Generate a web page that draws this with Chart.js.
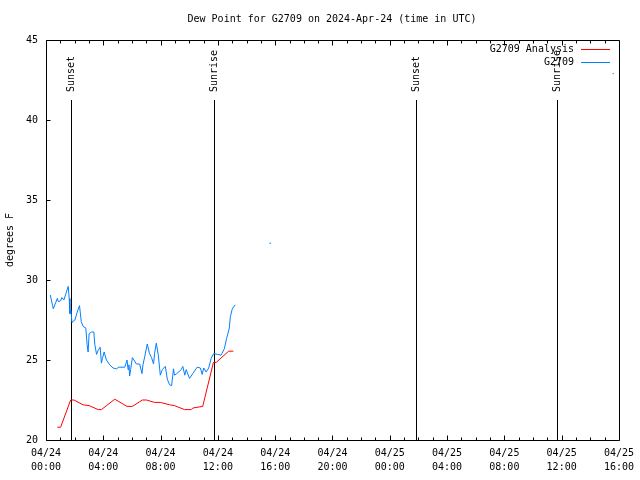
<!DOCTYPE html>
<html>
<head>
<meta charset="utf-8">
<script src="https://cdn.jsdelivr.net/npm/chart.js@4/dist/chart.umd.min.js"></script>
<style>
  html, body { margin: 0; padding: 0; background: #fff; }
  #wrap { width: 640px; height: 480px; }
</style>
</head>
<body>
<div id="wrap"><canvas id="chart" width="640" height="480"></canvas></div>
<script>
// --- data (hours since 2024-04-24 00:00 UTC) ---
const obsHours = [0.30, 0.51, 0.79, 0.86, 1.02, 1.11, 1.25, 1.39, 1.55, 1.62, 1.67, 1.74, 1.81, 2.02, 2.18, 2.34, 2.46, 2.59, 2.78, 2.87,
  2.94, 3.01, 3.18, 3.34, 3.41, 3.53, 3.64, 3.78, 3.87, 3.94, 4.06, 4.22, 4.45, 4.68, 4.92, 5.08, 5.50, 5.66, 5.73, 5.79,
  5.84, 5.91, 6.03, 6.31, 6.54, 6.70, 6.77, 6.89, 7.07, 7.23, 7.37, 7.51, 7.58, 7.70, 7.84, 7.98, 8.12, 8.33, 8.47, 8.63,
  8.77, 8.90, 8.97, 9.13, 9.44, 9.55, 9.69, 9.79, 10.02, 10.25, 10.55, 10.78, 10.90, 11.01, 11.18, 11.36, 11.53, 11.71, 11.99, 12.22,
  12.45, 12.61, 12.80, 12.87, 12.99, 13.08, 13.22];
const obsValues = [29.06, 28.2, 28.85, 28.65, 28.7, 28.9, 28.75, 29.15, 29.6, 28.85, 27.9, 28.1, 27.35, 27.5, 28.0, 28.4, 27.4, 27.1, 27.0, 25.95,
  25.5, 26.65, 26.75, 26.75, 25.95, 25.35, 25.6, 25.8, 24.8, 25.1, 25.5, 25.0, 24.7, 24.5, 24.45, 24.55, 24.55, 25.0, 24.4, 24.7,
  24.0, 24.4, 25.15, 24.75, 24.75, 24.15, 24.7, 25.2, 26.0, 25.4, 25.15, 24.75, 25.4, 26.05, 25.3, 24.05, 24.4, 24.6, 23.8, 23.45,
  23.4, 24.45, 24.05, 24.15, 24.4, 24.6, 24.05, 24.4, 23.85, 24.15, 24.55, 24.5, 24.1, 24.5, 24.25, 24.5, 25.1, 25.4, 25.35, 25.3,
  25.7, 26.35, 27.0, 27.7, 28.15, 28.3, 28.45];

const analysisHours = [0.79, 1.02, 1.72, 1.95, 2.59, 3.01, 3.64, 3.87, 4.80, 5.66, 6.03, 6.73, 7.01, 7.58, 7.98, 8.63, 8.97, 9.67, 10.14, 10.25,
  10.94, 11.69, 11.88, 12.75, 13.08];
const analysisValues = [20.8, 20.8, 22.5, 22.5, 22.2, 22.15, 21.9, 21.9, 22.55, 22.1, 22.1, 22.5, 22.5, 22.35, 22.35, 22.2, 22.15, 21.9, 21.9, 22.0,
  22.1, 24.85, 24.85, 25.55, 25.55];

// stray single dots in the picture
const strayHours = [15.65, 39.6];
const strayValues = [32.3, 42.9];

const eventHours = [1.76, 11.71, 25.81, 35.69];
const eventLabels = ['Sunset', 'Sunrise', 'Sunset', 'Sunrise'];

const tickDates = ['04/24', '04/24', '04/24', '04/24', '04/24', '04/24', '04/25', '04/25', '04/25', '04/25', '04/25'];
const tickTimes = ['00:00', '04:00', '08:00', '12:00', '16:00', '20:00', '00:00', '04:00', '08:00', '12:00', '16:00'];

const chartTitle = 'Dew Point for G2709 on 2024-Apr-24 (time in UTC)';

const FONT = "'DejaVu Sans Mono', 'Liberation Mono', monospace";
const RED = '#ff0000';
const BLUE = '#0080ff';

const toPoints = (xs, ys) => xs.map((x, i) => ({ x: x, y: ys[i] }));

// --- frame, ticks, sunrise/sunset markers, title, legend ---
const gnuplotDecor = {
    id: 'gnuplotDecor',
    beforeDatasetsDraw(chart) {
        const { ctx, chartArea, scales } = chart;
        const xs = scales.x, ys = scales.y;
        const L = Math.round(chartArea.left) + 0.5;
        const R = Math.round(chartArea.right) + 0.5;
        const T = Math.round(chartArea.top) + 0.5;
        const B = Math.round(chartArea.bottom) + 0.5;

        ctx.save();
        ctx.strokeStyle = '#000';
        ctx.lineWidth = 1;
        ctx.beginPath();
        ctx.rect(L, T, R - L, B - T);

        // x ticks every hour, major every 4, on bottom and top
        for (let h = 0; h <= 40; h++) {
            const px = Math.round(xs.getPixelForValue(h)) + 0.5;
            const len = h % 4 === 0 ? 5 : 3;
            ctx.moveTo(px, B); ctx.lineTo(px, B - len);
            ctx.moveTo(px, T); ctx.lineTo(px, T + len);
        }
        // y ticks on the left only
        for (let v = 20; v <= 45; v += 5) {
            const py = Math.round(ys.getPixelForValue(v)) + 0.5;
            ctx.moveTo(L, py); ctx.lineTo(L + 4, py);
        }
        ctx.stroke();

        // event lines
        ctx.font = '10px ' + FONT;
        ctx.fillStyle = '#000';
        eventHours.forEach((h, i) => {
            const px = Math.round(xs.getPixelForValue(h)) + 0.5;
            ctx.beginPath();
            ctx.moveTo(px, 100);
            ctx.lineTo(px, B);
            ctx.stroke();
            ctx.save();
            ctx.translate(px, 92);
            ctx.rotate(-Math.PI / 2);
            ctx.textAlign = 'left';
            ctx.textBaseline = 'middle';
            ctx.fillText(eventLabels[i], 0, 0);
            ctx.restore();
        });
        ctx.restore();
    },
    afterDraw(chart) {
        const { ctx } = chart;
        ctx.save();
        ctx.font = '10px ' + FONT;
        ctx.fillStyle = '#000';

        // title (gnuplot centres it a bit right of the canvas middle)
        ctx.textAlign = 'center';
        ctx.textBaseline = 'middle';
        ctx.fillText(chartTitle, 332, 19);

        ctx.textAlign = 'right';
        ctx.lineWidth = 1;
        const legendItems = chart.data.datasets.filter(ds => ds.label);
        legendItems.forEach((ds, i) => {
            const y = 49.5 + i * 13;
            ctx.fillStyle = '#000';
            ctx.fillText(ds.label, 574, y);
            ctx.strokeStyle = ds.borderColor;
            ctx.beginPath();
            ctx.moveTo(581, y);
            ctx.lineTo(610, y);
            ctx.stroke();
        });
        ctx.restore();
    }
};

new Chart(document.getElementById('chart'), {
    type: 'line',
    data: {
        datasets: [
            {
                label: 'G2709 Analysis',
                data: toPoints(analysisHours, analysisValues),
                borderColor: RED,
                borderWidth: 1,
                pointRadius: 0,
                tension: 0
            },
            {
                label: 'G2709',
                data: toPoints(obsHours, obsValues),
                borderColor: BLUE,
                borderWidth: 1,
                pointRadius: 0,
                tension: 0
            },
            {
                label: '',
                data: toPoints(strayHours, strayValues),
                showLine: false,
                borderColor: BLUE,
                backgroundColor: BLUE,
                pointRadius: 0.7,
                pointBorderWidth: 0
            }
        ]
    },
    options: {
        responsive: false,
        devicePixelRatio: 1,
        animation: false,
        layout: { padding: { left: 0, right: 18, top: 40, bottom: 0 } },
        plugins: {
            legend: { display: false },
            tooltip: { enabled: false },
            title: { display: false }
        },
        scales: {
            x: {
                type: 'linear',
                min: 0,
                max: 40,
                grid: { display: false, drawTicks: false },
                border: { display: false },
                ticks: {
                    stepSize: 4,
                    autoSkip: false,
                    maxRotation: 0,
                    padding: 6,
                    color: '#000',
                    font: { family: FONT, size: 10, lineHeight: 1.4 },
                    callback: (value) => {
                        const i = Math.round(value / 4);
                        return [tickDates[i], tickTimes[i]];
                    }
                },
                afterFit: (scale) => { scale.height = 40; }
            },
            y: {
                min: 20,
                max: 45,
                grid: { display: false, drawTicks: false },
                border: { display: false },
                ticks: {
                    stepSize: 5,
                    padding: 8,
                    color: '#000',
                    font: { family: FONT, size: 10 }
                },
                title: {
                    display: true,
                    text: 'degrees F',
                    color: '#000',
                    font: { family: FONT, size: 10 }
                },
                afterFit: (scale) => { scale.width = 46; }
            }
        }
    },
    plugins: [gnuplotDecor]
});
</script>
</body>
</html>
